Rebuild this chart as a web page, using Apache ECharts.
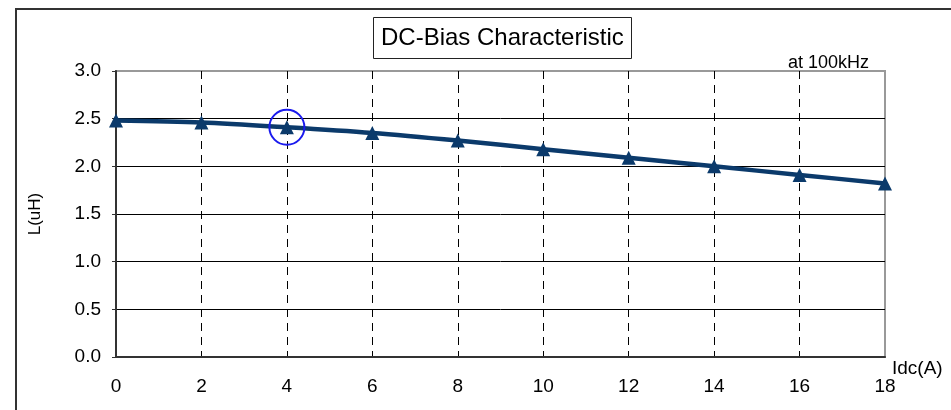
<!DOCTYPE html>
<html>
<head>
<meta charset="utf-8">
<script src="https://cdn.jsdelivr.net/npm/echarts@6/dist/echarts.min.js"></script>
<style>html,body{margin:0;padding:0;background:#fff;}#c{width:951px;height:410px;}</style>
</head>
<body>
<div id="c"></div>
<script>
var categories = [0, 2, 4, 6, 8, 10, 12, 14, 16, 18];
var inductance = [2.48, 2.46, 2.41, 2.35, 2.27, 2.18, 2.09, 2.00, 1.91, 1.82];
var yTicks = [0.0, 0.5, 1.0, 1.5, 2.0, 2.5, 3.0];
var xTicks = [0, 2, 4, 6, 8, 10, 12, 14, 16, 18];
var highlighted = [4, 2.41];

var FONT = '"Liberation Sans", Arial, sans-serif';
var chart = echarts.init(document.getElementById('c'));
chart.setOption({
  animation: false,
  title: {
    text: 'DC-Bias Characteristic',
    left: 373, top: 17,
    padding: [9, 8, 9, 8],
    borderColor: '#222', borderWidth: 1,
    textStyle: { fontFamily: FONT, fontSize: 24, fontWeight: 'normal', color: '#000' }
  },
  graphic: [
    { type: 'polyline', shape: { points: [[16, 410], [16, 9], [951, 9]] }, style: { stroke: '#333', lineWidth: 2, fill: null } },
    { type: 'text', left: 788, top: 54, style: { text: 'at 100kHz', fontFamily: FONT, fontSize: 18, fill: '#000' } },
    { type: 'text', left: 892, top: 359, style: { text: 'Idc(A)', fontFamily: FONT, fontSize: 19, fill: '#000' } }
  ],
  grid: { left: 116, right: 66, top: 71, bottom: 53, show: true, borderColor: '#999', borderWidth: 2, outerBoundsMode: 'none', containLabel: false },
  xAxis: {
    type: 'value', min: xTicks[0], max: xTicks[xTicks.length - 1], interval: 2,
    axisLine: { lineStyle: { color: '#333', width: 2 } },
    axisTick: { show: false },
    axisLabel: { fontFamily: FONT, fontSize: 19, color: '#000', margin: 20 },
    splitLine: { show: true, showMinLine: false, showMaxLine: false, lineStyle: { color: '#000', type: [8, 6], width: 1 } }
  },
  yAxis: {
    type: 'value', min: yTicks[0], max: yTicks[yTicks.length - 1], interval: 0.5,
    name: 'L(uH)', nameLocation: 'middle', nameGap: 72, nameRotate: 90,
    nameTextStyle: { fontFamily: FONT, fontSize: 17, color: '#000' },
    axisLine: { show: true, lineStyle: { color: '#333', width: 2 } },
    axisTick: { show: true, length: 4, lineStyle: { color: '#333' } },
    axisLabel: { fontFamily: FONT, fontSize: 19, color: '#000', margin: 15, formatter: function (v) { return v.toFixed(1); } },
    splitLine: { show: true, showMinLine: false, showMaxLine: false, lineStyle: { color: '#000', width: 1 } }
  },
  series: [{
    type: 'line',
    data: categories.map(function (x, i) { return [x, inductance[i]]; }),
    smooth: 0.3,
    symbol: 'triangle', symbolSize: 14,
    lineStyle: { color: '#0b3a6b', width: 4.5 },
    itemStyle: { color: '#0b3a6b' },
    markPoint: {
      symbol: 'circle', symbolSize: 35,
      label: { show: false },
      itemStyle: { color: 'rgba(0,0,0,0)', borderColor: '#1a1aee', borderWidth: 2 },
      data: [{ coord: highlighted }]
    }
  }]
});
</script>
</body>
</html>
